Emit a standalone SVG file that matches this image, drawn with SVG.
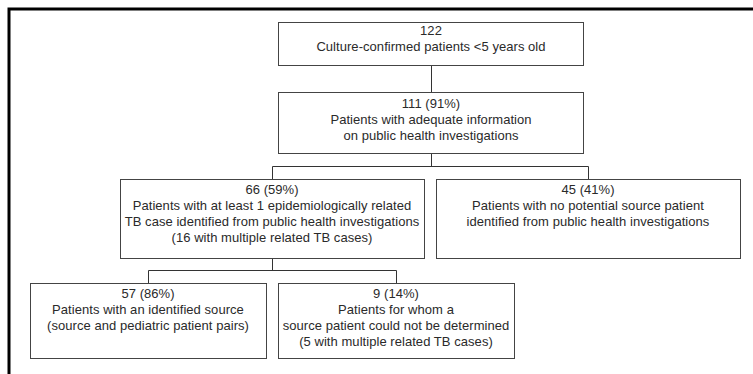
<svg xmlns="http://www.w3.org/2000/svg" width="753" height="374" viewBox="0 0 753 374">
<style>
.box{fill:#fff;stroke:#444;stroke-width:1}
.ln{fill:none;stroke:#333;stroke-width:1}
text{font-family:"Liberation Sans",Arial,sans-serif;font-size:13px;letter-spacing:0.05px;fill:#2a2a2a;text-anchor:middle}
</style>
<rect width="753" height="374" fill="#fff"/>
<path d="M9,374 V9 H753" fill="none" stroke="#000" stroke-width="3"/>
<g id="connectors">
<path class="ln" d="M431.5,65 V92"/>
<path class="ln" d="M431.5,153 V166.5 M272.5,179 V166.5 H588.5 V179"/>
<path class="ln" d="M272.5,258 V270.5 M148.5,283 V270.5 H396.5 V283"/>
</g>
<g id="n1">
<rect class="box" x="278.5" y="22.5" width="305" height="43"/>
<text x="431" y="35">122</text>
<text x="431" y="51">Culture-confirmed patients &lt;5 years old</text>
</g>
<g id="n2">
<rect class="box" x="278.5" y="92.5" width="305" height="61"/>
<text x="431" y="108">111 (91%)</text>
<text x="431" y="124">Patients with adequate information</text>
<text x="431" y="140">on public health investigations</text>
</g>
<g id="n3">
<rect class="box" x="120.5" y="179.5" width="304" height="79"/>
<text x="272" y="194">66 (59%)</text>
<text x="272" y="210">Patients with at least 1 epidemiologically related</text>
<text x="272" y="226">TB case identified from public health investigations</text>
<text x="272" y="242">(16 with multiple related TB cases)</text>
</g>
<g id="n4">
<rect class="box" x="436.5" y="179.5" width="304" height="79"/>
<text x="588" y="194">45 (41%)</text>
<text x="588" y="210">Patients with no potential source patient</text>
<text x="588" y="226">identified from public health investigations</text>
</g>
<g id="n5">
<rect class="box" x="30.5" y="283.5" width="236" height="75"/>
<text x="148" y="298">57 (86%)</text>
<text x="148" y="314">Patients with an identified source</text>
<text x="148" y="330">(source and pediatric patient pairs)</text>
</g>
<g id="n6">
<rect class="box" x="278.5" y="283.5" width="236" height="75"/>
<text x="396" y="298">9 (14%)</text>
<text x="396" y="314">Patients for whom a</text>
<text x="396" y="330">source patient could not be determined</text>
<text x="396" y="346">(5 with multiple related TB cases)</text>
</g>
</svg>
